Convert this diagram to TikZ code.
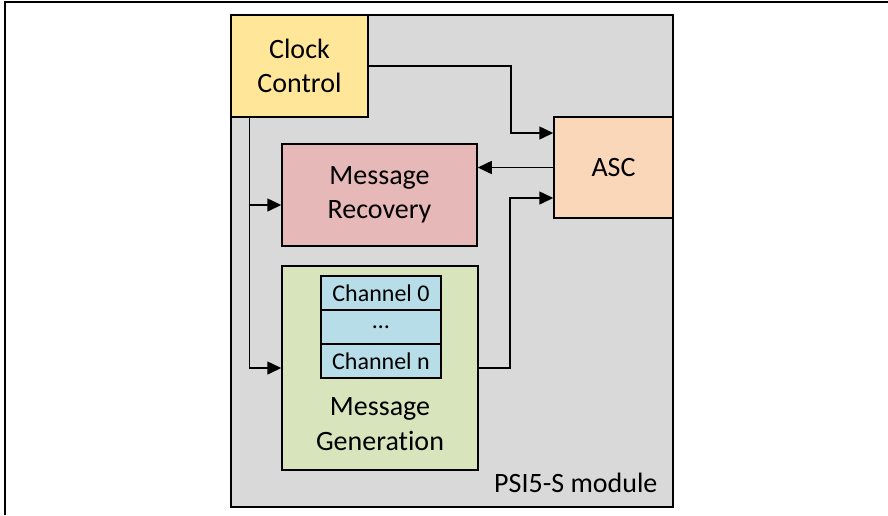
\documentclass[tikz,border=0pt]{standalone}
\usepackage{fontspec}
\setmainfont{Carlito}[Ligatures=NoCommon]
\usetikzlibrary{arrows.meta}
\definecolor{modgray}{HTML}{D9D9D9}
\definecolor{clockyellow}{HTML}{FFE699}
\definecolor{recovpink}{HTML}{E6B8B7}
\definecolor{ascpeach}{HTML}{FAD7B8}
\definecolor{gengreen}{HTML}{D8E4BC}
\definecolor{chanblue}{HTML}{B7DEE8}

\begin{document}
\begin{tikzpicture}[x=1pt, y=-1pt,
    blk/.style={draw, line width=1.5pt, inner sep=0pt, align=center,
      font=\fontsize{28}{34.5}\selectfont},
    chan/.style={blk, fill=chanblue, minimum width=120pt, minimum height=34pt,
      font=\fontsize{24}{28}\selectfont},
    arr/.style={line width=1.5pt, -{Triangle[length=14pt, width=13pt]}}]
    \useasboundingbox (0,0) rectangle (888,515);
    \draw[line width=2pt] (5,515) |- (888,2);
    \node[blk, fill=modgray, minimum width=442pt, minimum height=492pt] (module) at (452,261) {};
    \node[font=\fontsize{28}{34}\selectfont, anchor=base east] (modlbl) at (661,492) {PSI5-S module};
    \node[blk, fill=clockyellow, minimum width=137pt, minimum height=102pt] (clock) at (299.5,66) {Clock\\Control};
    \node[blk, fill=ascpeach, minimum width=119pt, minimum height=101pt] (asc) at (613.5,167.5) {ASC};
    \node[blk, fill=recovpink, minimum width=195pt, minimum height=102pt] (recov) at (379.5,195) {Message\\Recovery};
    \node[blk, fill=gengreen, minimum width=196pt, minimum height=204pt] (gen) at (380,368) {};
    \node[blk, draw=none] (genlbl) at (380,424) {Message\\Generation};
    \foreach \y/\t/\n in {293/{Channel 0}/ch0, 327/{\ldots}/chdots, 361/{Channel n}/chn}{
      \node[chan] (\n) at (381,\y) {\t};
    }
    \coordinate (bus) at ([xshift=19pt]clock.south west);
    \draw[arr] (clock.east) -- ++(142,0) |- ([yshift=34.5pt]asc.west);
    \draw[arr] (asc.west) -- (asc.west -| recov.east);
    \draw[arr] (gen.east) -- ++(31,0) |- ([yshift=-30.5pt]asc.west);
    \draw[arr] (bus) |- ([yshift=-10pt]recov.west);
    \draw[arr] (bus) |- (gen.west);
  \end{tikzpicture}
\end{document}
